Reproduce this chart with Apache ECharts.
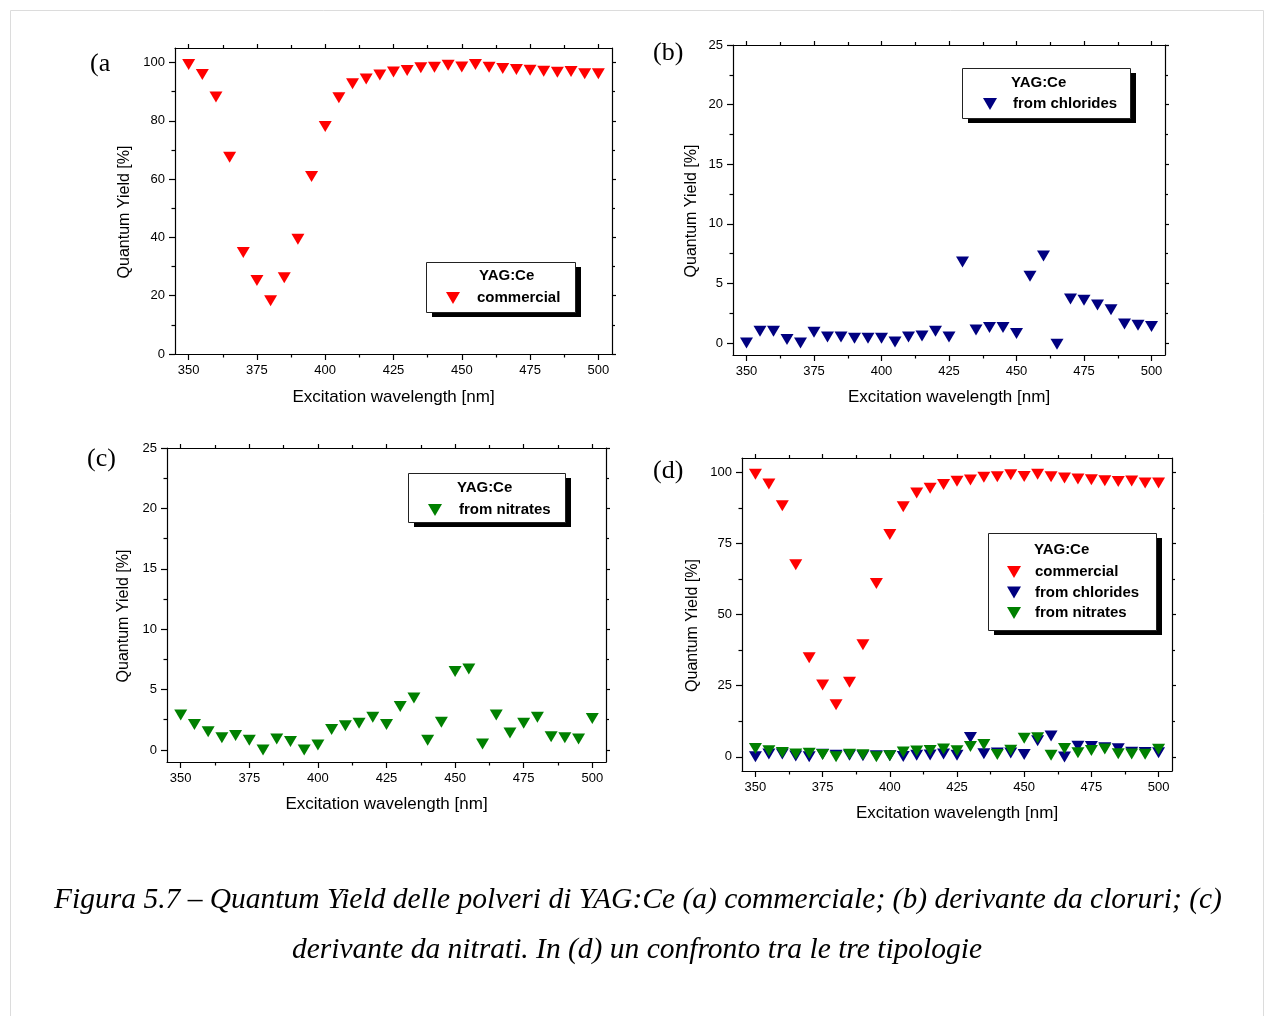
<!DOCTYPE html>
<html>
<head>
<meta charset="utf-8">
<title>Quantum Yield YAG:Ce</title>
<script src="https://cdn.jsdelivr.net/npm/echarts@6/dist/echarts.min.js"></script>
<style>
  html, body { margin: 0; padding: 0; background: #fff; }
  #chart { width: 1266px; height: 1016px; }
</style>
</head>
<body>
<div id="chart"></div>
<script>
// lunghezze d'onda di eccitazione [nm]
const wavelengths = [350, 355, 360, 365, 370, 375, 380, 385, 390, 395, 400, 405, 410, 415, 420, 425,
  430, 435, 440, 445, 450, 455, 460, 465, 470, 475, 480, 485, 490, 495, 500]

// quantum yield [%]
const commercial = [99.3, 95.9, 88.2, 67.5, 34.8, 25.2, 18.3, 26.2, 39.4, 60.9, 78.1, 87.9, 92.7, 94.4, 95.7, 96.8,
  97.3, 98.2, 98.4, 99.1, 98.5, 99.3, 98.4, 98.0, 97.6, 97.4, 97.0, 96.7, 96.9, 96.2, 96.2]
const chlorides = [0.0, 1.0, 1.0, 0.3, 0.0, 0.9, 0.5, 0.5, 0.4, 0.4, 0.4, 0.1, 0.5, 0.6, 1.0, 0.5,
  6.8, 1.1, 1.3, 1.3, 0.8, 5.6, 7.3, -0.1, 3.7, 3.6, 3.2, 2.8, 1.6, 1.5, 1.4]
const nitrates = [2.9, 2.1, 1.5, 1.0, 1.2, 0.8, 0.0, 0.9, 0.7, 0.0, 0.4, 1.7, 2.0, 2.2, 2.7, 2.1,
  3.6, 4.3, 0.8, 2.3, 6.5, 6.7, 0.5, 2.9, 1.4, 2.2, 2.7, 1.1, 1.0, 0.9, 2.6]

// tick degli assi
const xMajor = [350, 375, 400, 425, 450, 475, 500]
const xMinor = [362.5, 387.5, 412.5, 437.5, 462.5, 487.5]
const yMajorA = [0, 20, 40, 60, 80, 100]
const yMinorA = [10, 30, 50, 70, 90]
const yMajorBC = [0, 5, 10, 15, 20, 25]
const yMinorBC = [2.5, 7.5, 12.5, 17.5, 22.5]
const yMajorD = [0, 25, 50, 75, 100]
const yMinorD = [12.5, 37.5, 62.5, 87.5]

const SANS = '"Liberation Sans", Arial, sans-serif'
const SERIF = '"Liberation Serif", "Times New Roman", serif'
const RED = '#ff0000'
const BLUE = '#000080'
const GREEN = '#008000'
const TRI = 'path://M0,0 L10,0 L5,8.5 Z'

const axisLineStyle = { color: '#000', width: 1.2 }
const xAxis = []
const yAxis = []

// crea gli 8 assi (major/minor su 4 lati) di un pannello
function addPanelAxes(gi, yMin, yMax, yMajor, yMinor, xNameGap, yNameGap) {
  const xi = xAxis.length
  const yi = yAxis.length
  const xBase = { gridIndex: gi, type: 'value', min: 345, max: 505, splitLine: { show: false } }
  const yBase = { gridIndex: gi, type: 'value', min: yMin, max: yMax, splitLine: { show: false } }
  xAxis.push(Object.assign({}, xBase, {
    position: 'bottom',
    name: 'Excitation wavelength [nm]',
    nameLocation: 'middle',
    nameGap: xNameGap,
    nameTextStyle: { fontSize: 17, color: '#000', fontFamily: SANS },
    axisLine: { show: true, onZero: false, lineStyle: axisLineStyle },
    axisTick: { show: true, length: 6, customValues: xMajor, lineStyle: axisLineStyle },
    axisLabel: { show: true, customValues: xMajor, fontSize: 13, color: '#000', margin: 10, fontFamily: SANS }
  }))
  xAxis.push(Object.assign({}, xBase, {
    position: 'bottom',
    axisLine: { show: false, onZero: false },
    axisTick: { show: true, length: 3.5, customValues: xMinor, lineStyle: axisLineStyle },
    axisLabel: { show: false }
  }))
  xAxis.push(Object.assign({}, xBase, {
    position: 'top',
    axisLine: { show: true, onZero: false, lineStyle: axisLineStyle },
    axisTick: { show: true, length: 4, customValues: xMajor, lineStyle: axisLineStyle },
    axisLabel: { show: false }
  }))
  xAxis.push(Object.assign({}, xBase, {
    position: 'top',
    axisLine: { show: false, onZero: false },
    axisTick: { show: true, length: 3, customValues: xMinor, lineStyle: axisLineStyle },
    axisLabel: { show: false }
  }))

  yAxis.push(Object.assign({}, yBase, {
    position: 'left',
    name: 'Quantum Yield [%]',
    nameLocation: 'middle',
    nameGap: yNameGap,
    nameTextStyle: { fontSize: 16, color: '#000', fontFamily: SANS, padding: [0, 22, 0, 0] },
    axisLine: { show: true, onZero: false, lineStyle: axisLineStyle },
    axisTick: { show: true, length: 6, customValues: yMajor, lineStyle: axisLineStyle },
    axisLabel: { show: true, customValues: yMajor, fontSize: 13, color: '#000', margin: 10, fontFamily: SANS }
  }))
  yAxis.push(Object.assign({}, yBase, {
    position: 'left',
    axisLine: { show: false, onZero: false },
    axisTick: { show: true, length: 3.5, customValues: yMinor, lineStyle: axisLineStyle },
    axisLabel: { show: false }
  }))
  yAxis.push(Object.assign({}, yBase, {
    position: 'right',
    axisLine: { show: true, onZero: false, lineStyle: axisLineStyle },
    axisTick: { show: true, length: 4, customValues: yMajor, lineStyle: axisLineStyle },
    axisLabel: { show: false }
  }))
  yAxis.push(Object.assign({}, yBase, {
    position: 'right',
    axisLine: { show: false, onZero: false },
    axisTick: { show: true, length: 3, customValues: yMinor, lineStyle: axisLineStyle },
    axisLabel: { show: false }
  }))
  return { xi: xi, yi: yi }
}

const pA = addPanelAxes(0, 0, 105, yMajorA, yMinorA, 35, 42)
const pB = addPanelAxes(1, -1, 25, yMajorBC, yMinorBC, 34, 33)
const pC = addPanelAxes(2, -1, 25, yMajorBC, yMinorBC, 34, 35)
const pD = addPanelAxes(3, -5, 105, yMajorD, yMinorD, 34, 41)

function pairs(values) {
  return wavelengths.map((w, i) => [w, values[i]])
}

function scatter(name, values, color, panel) {
  return {
    type: 'scatter',
    name: name,
    xAxisIndex: panel.xi,
    yAxisIndex: panel.yi,
    data: pairs(values),
    symbol: 'triangle',
    symbolRotate: 180,
    symbolSize: [13, 11],
    itemStyle: { color: color, opacity: 1 },
    emphasis: { disabled: true },
    z: 3
  }
}

// legenda senza sfondo: il riquadro con ombra e' disegnato con graphic
function legendItems(names, left, top, textPad) {
  return {
    data: names.map(n => ({ name: n, icon: TRI })),
    left: left,
    top: top,
    orient: 'vertical',
    padding: 0,
    itemWidth: 14,
    itemHeight: 12,
    itemGap: 2.5,
    selectedMode: false,
    z: 20,
    textStyle: { fontSize: 15, fontWeight: 'bold', color: '#000', fontFamily: SANS, lineHeight: 18, padding: [0, 0, 0, textPad] }
  }
}

function legendFrame(x, y, w, h) {
  return [
    { type: 'rect', z: 10, shape: { x: x + 6, y: y + 5, width: w, height: h }, style: { fill: '#000' } },
    { type: 'rect', z: 11, shape: { x: x + 0.5, y: y + 0.5, width: w, height: h }, style: { fill: '#fff', stroke: '#222', lineWidth: 1 } }
  ]
}

function label(text, x, y, font, align) {
  return {
    type: 'text',
    z: 100,
    style: { text: text, x: x, y: y, font: font, fill: '#000', align: align || 'left', verticalAlign: 'middle' }
  }
}

const chart = echarts.init(document.getElementById('chart'))
chart.setOption({
  animation: false,
  backgroundColor: '#fff',
  grid: [
    { left: 175, top: 48, width: 437, height: 306 },
    { left: 733, top: 45, width: 432, height: 310 },
    { left: 167, top: 448, width: 439, height: 314 },
    { left: 742, top: 458, width: 430, height: 313 }
  ],
  xAxis: xAxis,
  yAxis: yAxis,
  legend: [
    legendItems(['commercial'], 446, 289, 12),
    legendItems(['from chlorides'], 983, 95, 11),
    legendItems(['from nitrates'], 428, 501, 12),
    legendItems(['commercial', 'from chlorides', 'from nitrates'], 1007, 563, 9)
  ],
  series: [
    scatter('commercial', commercial, RED, pA),
    scatter('from chlorides', chlorides, BLUE, pB),
    scatter('from nitrates', nitrates, GREEN, pC),
    scatter('commercial', commercial, RED, pD),
    scatter('from chlorides', chlorides, BLUE, pD),
    scatter('from nitrates', nitrates, GREEN, pD)
  ],
  graphic: [
    // cornice della pagina
    {
      type: 'rect',
      z: -10,
      shape: { x: 10.5, y: 10.5, width: 1253, height: 1020 },
      style: { fill: 'none', stroke: '#dcdcdc', lineWidth: 1 }
    },
    // riquadri delle legende
    ...legendFrame(426, 262, 149, 50),
    ...legendFrame(962, 68, 168, 50),
    ...legendFrame(408, 473, 157, 49),
    ...legendFrame(988, 533, 168, 97),
    // lettere dei pannelli
    label('(a', 90, 64, '26px ' + SERIF),
    label('(b)', 653, 53, '26px ' + SERIF),
    label('(c)', 87, 459, '26px ' + SERIF),
    label('(d)', 653, 471, '26px ' + SERIF),
    // titoli delle legende
    label('YAG:Ce', 479, 276, 'bold 15px ' + SANS),
    label('YAG:Ce', 1011, 83, 'bold 15px ' + SANS),
    label('YAG:Ce', 457, 488, 'bold 15px ' + SANS),
    label('YAG:Ce', 1034, 550, 'bold 15px ' + SANS),
    // didascalia
    label('Figura 5.7 \u2013 Quantum Yield delle polveri di YAG:Ce (a) commerciale; (b) derivante da cloruri; (c)',
      638, 900, 'italic 29.5px ' + SERIF, 'center'),
    label('derivante da nitrati. In (d) un confronto tra le tre tipologie',
      637, 950, 'italic 29.5px ' + SERIF, 'center')
  ]
})
</script>
</body>
</html>
